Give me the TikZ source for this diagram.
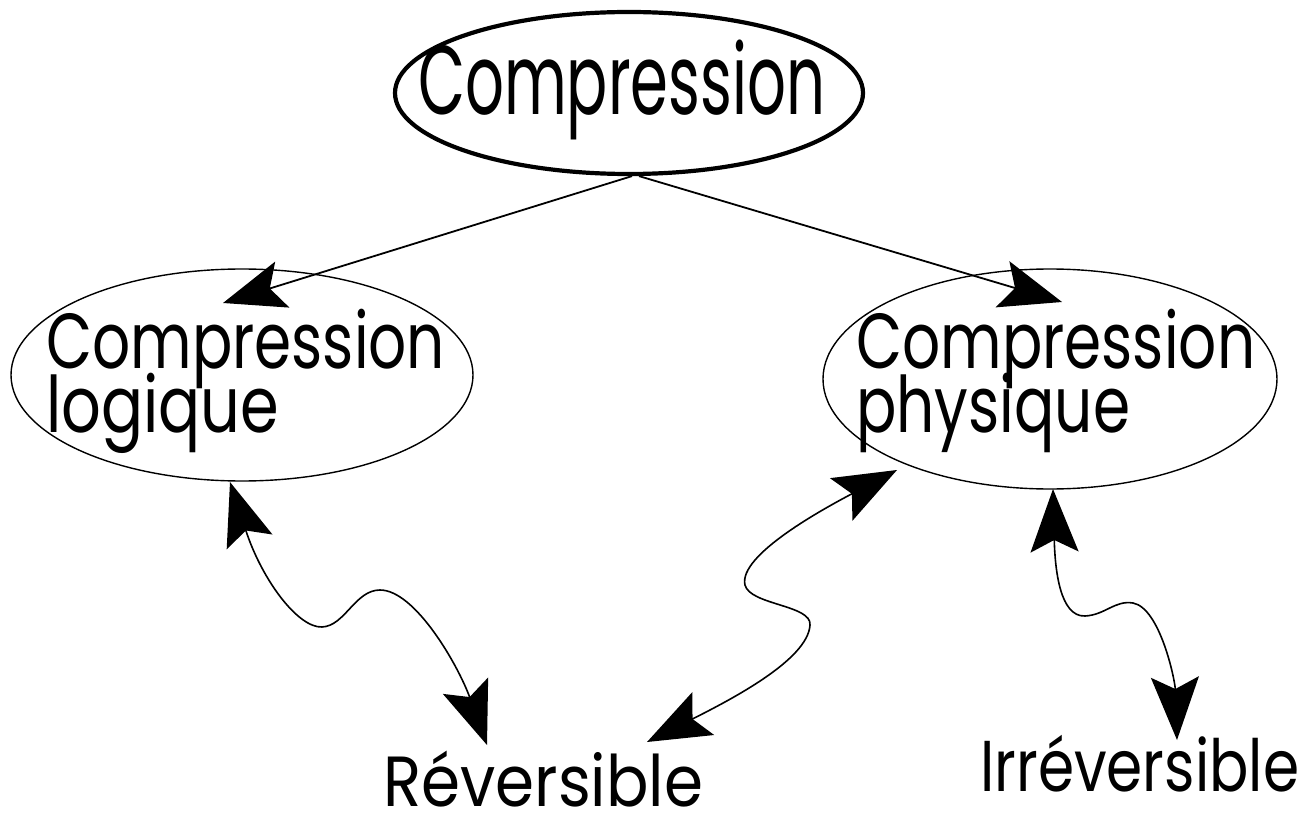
\documentclass[tikz,border=0pt]{standalone}
\usepackage{fontspec}
\setmainfont{Poppins}
\usetikzlibrary{shapes.geometric,arrows.meta,calc}
% set a word at its natural height, stretched to a given width
\newcommand\fitto[2]{\resizebox{#1}{\height}{#2}}
% two lines, 64pt from baseline to baseline, aligned on the first baseline
\newcommand\twolines[2]{\vtop{\baselineskip=64pt\lineskiplimit=-1000pt
  \hbox{#1}\hbox{#2}}}
\begin{document}
\begin{tikzpicture}[x=1pt,y=-1pt,
  oval/.style={draw, ellipse, inner sep=0pt, line width=1.4pt},
  word/.style={anchor=base west, inner sep=0pt},
  link/.style={line width=1.8pt},
  head/.style={arrows={-Stealth[length=62pt,width=48pt,inset=13pt]}},
  twohead/.style={line width=1.6pt,
    arrows={Stealth[length=63pt,width=48pt,inset=12pt]-Stealth[length=63pt,width=48pt,inset=12pt]}}]
\useasboundingbox (0,0) rectangle (1312,813);
\fill[white] (0,0) rectangle (1312,813);

% ellipses
\node[oval, line width=4.2pt, minimum width=468pt, minimum height=162pt] (top) at (629,93) {};
\node[oval, minimum width=462pt, minimum height=212pt] (cl) at (242,375) {};
\node[oval, minimum width=454pt, minimum height=220pt] (cr) at (1050,379) {};

% texts
\node[word, font=\fontsize{98}{98}\selectfont] (topt) at (418,115) {\fitto{407pt}{Compression}};
\node[word, font=\fontsize{78}{78}\selectfont] (clt) at (46,368)
  {\twolines{\fitto{399pt}{Compression}}{\fitto{233pt}{logique}}};
\node[word, font=\fontsize{78}{78}\selectfont] (crt) at (856,368)
  {\twolines{\fitto{399pt}{Compression}}{\fitto{274pt}{physique}}};
\node[word, font=\fontsize{71}{71}\selectfont] (rev) at (383,806) {\fitto{320pt}{Réversible}};
\node[word, font=\fontsize{72}{72}\selectfont] (irr) at (980,791) {\fitto{319pt}{Irréversible}};

% arrow end points
\coordinate (tL) at (223,303);
\coordinate (tR) at (1062,302);
\coordinate (lA) at (230,482);
\coordinate (lB) at (487,745);
\coordinate (mA) at (897,470);
\coordinate (mB) at (647,742);
\coordinate (rA) at (1053,489);
\coordinate (rB) at (1177,740);

% straight arrows from the top ellipse
\draw[link, head] ([xshift=3pt]top.south) -- (tL);
\draw[link, head] ([xshift=10pt]top.south) -- (tR);

% wavy double arrows
\draw[twohead] (lA) .. controls (262,580) and (298,628) .. (322,627)
  .. controls (345,626) and (355,590) .. (380,590)
  .. controls (415,590) and (458,665) .. (lB);
\draw[twohead] (mA) .. controls (825,508) and (738,555) .. (745,585)
  .. controls (750,605) and (812,605) .. (810,625)
  .. controls (808,660) and (730,700) .. (mB);
\draw[twohead] (rA) .. controls (1055,570) and (1060,617) .. (1085,616)
  .. controls (1105,615) and (1115,600) .. (1133,603)
  .. controls (1160,608) and (1175,680) .. (rB);
\end{tikzpicture}
\end{document}
